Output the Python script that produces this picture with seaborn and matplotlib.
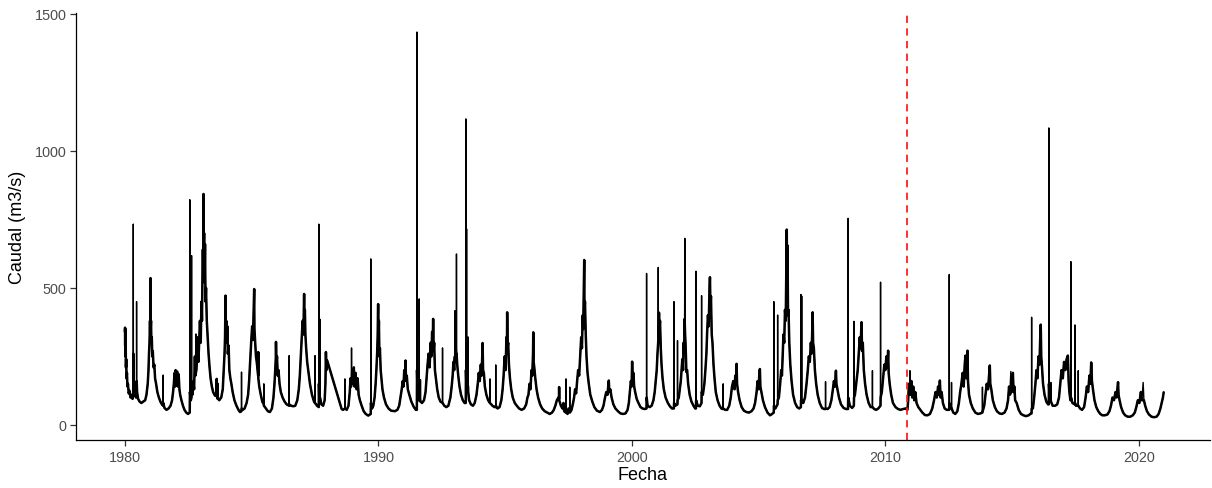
import matplotlib
matplotlib.use("Agg")
import matplotlib.pyplot as plt
import seaborn as sns
import pandas as pd

# Caudal diario (m3/s), puntos principales por década: (fecha en años decimales, caudal)
obs_1980s = [
    (1980.000, 340), (1980.005, 355), (1980.010, 290), (1980.015, 350), (1980.022, 250), (1980.030, 300),
    (1980.040, 210), (1980.050, 240), (1980.065, 170), (1980.080, 190), (1980.100, 140), (1980.120, 150),
    (1980.150, 115), (1980.180, 125), (1980.220, 100), (1980.260, 110), (1980.300, 95), (1980.327, 105),
    (1980.330, 733), (1980.334, 260), (1980.340, 180), (1980.360, 130), (1980.400, 110), (1980.440, 100),
    (1980.457, 110), (1980.460, 450), (1980.464, 160), (1980.480, 120), (1980.520, 95), (1980.580, 85),
    (1980.650, 80), (1980.720, 85), (1980.800, 90), (1980.850, 110), (1980.900, 150), (1980.930, 200),
    (1980.950, 260), (1980.970, 300), (1980.990, 380), (1981.005, 300), (1981.010, 536), (1981.015, 350),
    (1981.030, 380), (1981.045, 300), (1981.060, 320), (1981.080, 250), (1981.100, 270), (1981.130, 210),
    (1981.160, 220), (1981.190, 170), (1981.230, 150), (1981.280, 120), (1981.340, 100), (1981.400, 85),
    (1981.460, 75), (1981.507, 70), (1981.510, 182), (1981.514, 80), (1981.560, 62), (1981.640, 55),
    (1981.720, 60), (1981.800, 70), (1981.860, 90), (1981.900, 120), (1981.930, 150), (1981.960, 190),
    (1981.980, 140), (1982.000, 200), (1982.030, 150), (1982.060, 195), (1982.090, 140), (1982.120, 185),
    (1982.150, 130), (1982.180, 110), (1982.230, 90), (1982.290, 70), (1982.350, 55), (1982.420, 45),
    (1982.490, 40), (1982.557, 45), (1982.560, 822), (1982.564, 120), (1982.600, 90), (1982.627, 100),
    (1982.630, 618), (1982.634, 140), (1982.660, 110), (1982.700, 160), (1982.730, 130), (1982.760, 250),
    (1982.780, 180), (1982.800, 332), (1982.820, 200), (1982.850, 250), (1982.880, 320), (1982.900, 230),
    (1982.930, 300), (1982.960, 380), (1982.990, 300), (1983.020, 450), (1983.040, 380), (1983.060, 550),
    (1983.075, 640), (1983.090, 560), (1983.100, 843), (1983.110, 630), (1983.125, 700), (1983.140, 520),
    (1983.160, 660), (1983.180, 450), (1983.200, 500), (1983.230, 380), (1983.260, 330), (1983.300, 260),
    (1983.340, 210), (1983.380, 170), (1983.430, 140), (1983.480, 120), (1983.550, 107), (1983.617, 110),
    (1983.620, 168), (1983.624, 105), (1983.640, 100), (1983.657, 95), (1983.660, 150), (1983.664, 100),
    (1983.720, 90), (1983.800, 100), (1983.860, 130), (1983.900, 200), (1983.930, 260), (1983.950, 320),
    (1983.970, 472), (1983.980, 300), (1984.000, 380), (1984.020, 300), (1984.040, 360), (1984.060, 260),
    (1984.090, 290), (1984.120, 200), (1984.160, 170), (1984.200, 150), (1984.250, 120), (1984.320, 90),
    (1984.400, 70), (1984.480, 55), (1984.540, 47), (1984.597, 50), (1984.600, 193), (1984.604, 60),
    (1984.650, 55), (1984.720, 60), (1984.800, 80), (1984.860, 110), (1984.900, 160), (1984.940, 230),
    (1984.980, 300), (1985.020, 360), (1985.050, 310), (1985.080, 420), (1985.100, 496), (1985.110, 350),
    (1985.140, 300), (1985.170, 250), (1985.200, 230), (1985.257, 180), (1985.260, 266), (1985.264, 170),
    (1985.300, 140), (1985.360, 110), (1985.420, 85), (1985.477, 75), (1985.480, 150), (1985.484, 70),
    (1985.560, 60), (1985.640, 50), (1985.720, 47), (1985.800, 60), (1985.860, 100), (1985.900, 150),
    (1985.930, 200), (1985.955, 250), (1985.960, 303), (1985.975, 220), (1986.000, 250), (1986.030, 180),
    (1986.060, 200), (1986.100, 150), (1986.150, 120), (1986.220, 100), (1986.300, 85), (1986.380, 75),
    (1986.477, 70), (1986.480, 253), (1986.484, 75), (1986.560, 70), (1986.640, 68), (1986.720, 70),
    (1986.800, 90), (1986.860, 130), (1986.900, 180), (1986.940, 250), (1986.980, 320), (1987.010, 380),
    (1987.040, 330), (1987.060, 440), (1987.070, 478), (1987.080, 400), (1987.100, 420), (1987.120, 330),
    (1987.150, 280), (1987.190, 230), (1987.240, 193), (1987.300, 150), (1987.380, 110), (1987.460, 85),
    (1987.497, 80), (1987.500, 253), (1987.504, 80), (1987.580, 70), (1987.647, 65), (1987.650, 733),
    (1987.654, 150), (1987.670, 90), (1987.687, 80), (1987.690, 386), (1987.694, 100), (1987.750, 75),
    (1987.820, 70), (1987.880, 90), (1987.910, 150), (1987.930, 266), (1987.950, 200), (1987.980, 235),
    (1988.550, 58), (1988.600, 55), (1988.677, 60), (1988.680, 168), (1988.684, 60), (1988.750, 55),
    (1988.820, 70), (1988.870, 120), (1988.900, 170), (1988.920, 140), (1988.937, 160), (1988.940, 281),
    (1988.944, 150), (1988.970, 200), (1989.000, 150), (1989.030, 210), (1989.060, 140), (1989.100, 190),
    (1989.140, 130), (1989.180, 170), (1989.220, 110), (1989.270, 90), (1989.340, 70), (1989.420, 50),
    (1989.500, 40), (1989.600, 34), (1989.697, 40), (1989.700, 606), (1989.704, 80), (1989.750, 60),
    (1989.800, 70), (1989.850, 100), (1989.890, 150), (1989.920, 200), (1989.950, 260), (1989.970, 320),
    (1989.990, 441),
]

obs_1990s = [
    (1990.000, 300), (1990.020, 380), (1990.040, 250), (1990.060, 280), (1990.090, 200), (1990.120, 170),
    (1990.160, 130), (1990.220, 100), (1990.300, 75), (1990.400, 60), (1990.500, 52), (1990.650, 50),
    (1990.750, 55), (1990.820, 70), (1990.870, 100), (1990.920, 130), (1990.960, 160), (1990.990, 140),
    (1991.020, 200), (1991.050, 170), (1991.070, 235), (1991.090, 160), (1991.120, 180), (1991.160, 130),
    (1991.220, 110), (1991.300, 85), (1991.400, 65), (1991.480, 55), (1991.517, 55), (1991.520, 1434),
    (1991.524, 200), (1991.550, 100), (1991.580, 90), (1991.607, 90), (1991.610, 460), (1991.614, 120),
    (1991.640, 90), (1991.657, 85), (1991.660, 165), (1991.664, 85), (1991.720, 80), (1991.800, 90),
    (1991.860, 120), (1991.900, 170), (1991.940, 220), (1991.980, 260), (1992.020, 210), (1992.060, 300),
    (1992.090, 250), (1992.120, 340), (1992.140, 280), (1992.160, 387), (1992.180, 270), (1992.200, 300),
    (1992.230, 200), (1992.270, 170), (1992.320, 130), (1992.380, 100), (1992.450, 85), (1992.527, 80),
    (1992.530, 281), (1992.534, 80), (1992.600, 70), (1992.680, 65), (1992.760, 70), (1992.840, 100),
    (1992.890, 140), (1992.930, 180), (1992.960, 230), (1992.990, 200), (1993.017, 250), (1993.020, 417),
    (1993.024, 230), (1993.050, 280), (1993.077, 250), (1993.080, 624), (1993.084, 260), (1993.110, 220),
    (1993.150, 180), (1993.200, 140), (1993.260, 110), (1993.330, 90), (1993.400, 80), (1993.447, 80),
    (1993.450, 1117), (1993.454, 200), (1993.470, 150), (1993.477, 160), (1993.480, 715), (1993.484, 200),
    (1993.510, 150), (1993.537, 140), (1993.540, 321), (1993.544, 120), (1993.580, 90), (1993.650, 75),
    (1993.730, 70), (1993.800, 80), (1993.870, 110), (1993.920, 150), (1993.960, 190), (1994.000, 160),
    (1994.040, 220), (1994.070, 180), (1994.100, 260), (1994.110, 299), (1994.130, 200), (1994.160, 190),
    (1994.200, 140), (1994.260, 110), (1994.330, 90), (1994.397, 80), (1994.400, 168), (1994.404, 80),
    (1994.500, 70), (1994.580, 65), (1994.627, 65), (1994.630, 219), (1994.634, 70), (1994.700, 60),
    (1994.780, 65), (1994.850, 90), (1994.900, 130), (1994.940, 180), (1994.980, 250), (1995.020, 200),
    (1995.050, 320), (1995.070, 260), (1995.080, 411), (1995.095, 280), (1995.120, 300), (1995.150, 220),
    (1995.190, 170), (1995.240, 130), (1995.300, 100), (1995.380, 80), (1995.460, 70), (1995.550, 60),
    (1995.650, 55), (1995.750, 60), (1995.830, 75), (1995.880, 100), (1995.920, 110), (1995.960, 150),
    (1996.000, 130), (1996.040, 200), (1996.070, 180), (1996.100, 260), (1996.110, 338), (1996.125, 230),
    (1996.150, 210), (1996.190, 170), (1996.240, 130), (1996.300, 100), (1996.380, 75), (1996.460, 60),
    (1996.560, 50), (1996.660, 45), (1996.760, 40), (1996.850, 45), (1996.920, 55), (1996.980, 70),
    (1997.040, 90), (1997.100, 100), (1997.127, 95), (1997.130, 138), (1997.134, 90), (1997.200, 70),
    (1997.260, 60), (1997.300, 80), (1997.330, 50), (1997.397, 45), (1997.400, 168), (1997.404, 50),
    (1997.460, 40), (1997.500, 60), (1997.547, 50), (1997.550, 138), (1997.554, 45), (1997.620, 55),
    (1997.680, 80), (1997.720, 100), (1997.760, 130), (1997.800, 115), (1997.840, 160), (1997.880, 200),
    (1997.920, 180), (1997.960, 250), (1998.000, 320), (1998.030, 280), (1998.060, 400), (1998.080, 350),
    (1998.100, 480), (1998.120, 602), (1998.130, 420), (1998.150, 450), (1998.180, 330), (1998.210, 250),
    (1998.250, 190), (1998.300, 150), (1998.360, 110), (1998.440, 85), (1998.520, 65), (1998.620, 52),
    (1998.740, 47), (1998.820, 55), (1998.880, 70), (1998.940, 100), (1998.990, 120), (1999.040, 110),
    (1999.070, 145), (1999.090, 162), (1999.110, 120), (1999.150, 130), (1999.200, 100), (1999.270, 75),
    (1999.350, 60), (1999.450, 50), (1999.550, 42), (1999.650, 40), (1999.750, 42), (1999.830, 55),
    (1999.880, 80), (1999.920, 120), (1999.960, 160), (1999.990, 140),
]

obs_2000s = [
    (2000.010, 231), (2000.030, 160), (2000.060, 190), (2000.090, 140), (2000.130, 120), (2000.190, 95),
    (2000.260, 80), (2000.340, 65), (2000.420, 60), (2000.500, 58), (2000.577, 60), (2000.580, 553),
    (2000.584, 100), (2000.620, 70), (2000.700, 65), (2000.780, 70), (2000.850, 90), (2000.900, 120),
    (2000.940, 160), (2000.980, 200), (2001.010, 260), (2001.037, 300), (2001.040, 575), (2001.044, 320),
    (2001.070, 410), (2001.090, 350), (2001.110, 380), (2001.140, 280), (2001.170, 220), (2001.210, 170),
    (2001.260, 130), (2001.330, 100), (2001.420, 80), (2001.500, 68), (2001.580, 60), (2001.657, 60),
    (2001.660, 450), (2001.664, 80), (2001.720, 70), (2001.797, 75), (2001.800, 308), (2001.804, 90),
    (2001.850, 100), (2001.890, 130), (2001.930, 160), (2001.960, 200), (2001.990, 240), (2002.020, 200),
    (2002.040, 300), (2002.060, 260), (2002.080, 387), (2002.090, 681), (2002.100, 330), (2002.120, 290),
    (2002.150, 193), (2002.180, 200), (2002.220, 150), (2002.280, 110), (2002.350, 85), (2002.430, 70),
    (2002.500, 60), (2002.527, 60), (2002.530, 561), (2002.534, 90), (2002.600, 70), (2002.680, 68),
    (2002.747, 80), (2002.750, 472), (2002.754, 120), (2002.800, 110), (2002.860, 150), (2002.900, 200),
    (2002.940, 260), (2002.970, 340), (2003.000, 400), (2003.030, 360), (2003.060, 485), (2003.080, 539),
    (2003.100, 430), (2003.120, 470), (2003.150, 330), (2003.180, 300), (2003.220, 220), (2003.260, 170),
    (2003.310, 120), (2003.380, 90), (2003.460, 70), (2003.530, 60), (2003.580, 58), (2003.597, 60),
    (2003.600, 150), (2003.604, 60), (2003.680, 55), (2003.760, 55), (2003.840, 70), (2003.900, 100),
    (2003.950, 140), (2004.000, 160), (2004.050, 130), (2004.080, 180), (2004.110, 150), (2004.130, 223),
    (2004.150, 150), (2004.190, 120), (2004.250, 90), (2004.330, 65), (2004.420, 52), (2004.520, 47),
    (2004.620, 45), (2004.720, 50), (2004.800, 60), (2004.860, 80), (2004.920, 120), (2004.960, 160),
    (2005.000, 130), (2005.030, 190), (2005.050, 204), (2005.070, 140), (2005.110, 120), (2005.170, 90),
    (2005.250, 65), (2005.350, 45), (2005.450, 35), (2005.530, 40), (2005.597, 45), (2005.600, 450),
    (2005.604, 70), (2005.660, 60), (2005.747, 75), (2005.750, 401), (2005.754, 90), (2005.800, 100),
    (2005.850, 150), (2005.890, 200), (2005.920, 180), (2005.950, 260), (2005.980, 330), (2006.010, 300),
    (2006.040, 420), (2006.070, 380), (2006.090, 560), (2006.110, 713), (2006.125, 450), (2006.140, 655),
    (2006.160, 400), (2006.180, 420), (2006.210, 300), (2006.250, 220), (2006.300, 160), (2006.360, 110),
    (2006.440, 80), (2006.520, 65), (2006.600, 60), (2006.667, 65), (2006.670, 476), (2006.674, 90),
    (2006.690, 80), (2006.697, 80), (2006.700, 470), (2006.704, 90), (2006.760, 80), (2006.830, 100),
    (2006.890, 150), (2006.940, 200), (2006.980, 250), (2007.020, 230), (2007.060, 300), (2007.090, 260),
    (2007.120, 360), (2007.130, 411), (2007.150, 300), (2007.180, 280), (2007.220, 200), (2007.270, 150),
    (2007.330, 110), (2007.410, 80), (2007.500, 62), (2007.580, 58), (2007.637, 58), (2007.640, 158),
    (2007.644, 60), (2007.720, 58), (2007.800, 65), (2007.870, 90), (2007.930, 130), (2007.970, 160),
    (2008.010, 140), (2008.040, 185), (2008.050, 198), (2008.070, 150), (2008.110, 130), (2008.170, 100),
    (2008.250, 75), (2008.350, 62), (2008.450, 58), (2008.527, 58), (2008.530, 754), (2008.534, 100),
    (2008.600, 70), (2008.690, 62), (2008.757, 70), (2008.760, 378), (2008.764, 100), (2008.800, 110),
    (2008.860, 160), (2008.910, 200), (2008.950, 260), (2008.990, 320), (2009.020, 280), (2009.050, 350),
    (2009.060, 375), (2009.080, 270), (2009.110, 300), (2009.150, 200), (2009.200, 150), (2009.260, 110),
    (2009.340, 80), (2009.420, 65), (2009.487, 65), (2009.490, 198), (2009.494, 65), (2009.560, 58),
    (2009.640, 55), (2009.720, 60), (2009.807, 70), (2009.810, 521), (2009.814, 100), (2009.860, 120),
    (2009.910, 170), (2009.960, 220),
]

obs_2010s = [
    (2010.000, 200), (2010.040, 250), (2010.080, 210), (2010.110, 271), (2010.130, 190), (2010.170, 150),
    (2010.230, 110), (2010.300, 80), (2010.400, 65), (2010.500, 58), (2010.600, 55), (2010.700, 58),
    (2010.800, 60), (2010.870, 55), (2010.900, 90), (2010.930, 150), (2010.960, 120), (2010.970, 198),
    (2010.990, 110), (2011.030, 160), (2011.060, 100), (2011.100, 140), (2011.140, 90), (2011.180, 120),
    (2011.230, 80), (2011.300, 65), (2011.380, 55), (2011.460, 45), (2011.560, 36), (2011.660, 35),
    (2011.760, 40), (2011.850, 60), (2011.920, 90), (2011.980, 120), (2012.030, 100), (2012.080, 140),
    (2012.120, 110), (2012.150, 162), (2012.180, 100), (2012.220, 120), (2012.270, 80), (2012.340, 60),
    (2012.420, 55), (2012.517, 55), (2012.520, 549), (2012.524, 80), (2012.607, 60), (2012.610, 155),
    (2012.614, 60), (2012.680, 45), (2012.760, 40), (2012.840, 50), (2012.900, 80), (2012.950, 120),
    (2013.000, 150), (2013.050, 190), (2013.090, 140), (2013.130, 220), (2013.160, 253), (2013.190, 170),
    (2013.240, 271), (2013.260, 160), (2013.300, 110), (2013.370, 80), (2013.450, 60), (2013.550, 45),
    (2013.650, 40), (2013.750, 42), (2013.827, 45), (2013.830, 138), (2013.834, 48), (2013.900, 70),
    (2013.950, 110), (2014.000, 150), (2014.050, 130), (2014.090, 180), (2014.120, 217), (2014.140, 150),
    (2014.180, 130), (2014.240, 90), (2014.320, 65), (2014.400, 50), (2014.500, 42), (2014.600, 40),
    (2014.700, 45), (2014.780, 60), (2014.840, 90), (2014.880, 140), (2014.910, 110), (2014.950, 195),
    (2014.970, 120), (2015.000, 160), (2015.030, 190), (2015.060, 120), (2015.090, 140), (2015.120, 90),
    (2015.180, 80), (2015.260, 55), (2015.350, 40), (2015.450, 35), (2015.550, 32), (2015.650, 35),
    (2015.720, 40), (2015.767, 42), (2015.770, 393), (2015.774, 60), (2015.820, 60), (2015.870, 100),
    (2015.920, 150), (2015.960, 200), (2016.000, 170), (2016.040, 250), (2016.080, 220), (2016.110, 320),
    (2016.130, 366), (2016.150, 250), (2016.180, 210), (2016.220, 150), (2016.280, 110), (2016.350, 85),
    (2016.420, 75), (2016.447, 75), (2016.450, 1084), (2016.454, 150), (2016.480, 100), (2016.527, 90),
    (2016.530, 155), (2016.534, 85), (2016.600, 70), (2016.700, 70), (2016.780, 75), (2016.850, 100),
    (2016.900, 150), (2016.950, 200), (2017.000, 170), (2017.050, 230), (2017.100, 200), (2017.150, 240),
    (2017.200, 253), (2017.230, 160), (2017.260, 120), (2017.300, 90), (2017.317, 90), (2017.320, 596),
    (2017.324, 100), (2017.380, 80), (2017.477, 75), (2017.480, 365), (2017.484, 80), (2017.520, 70),
    (2017.607, 70), (2017.610, 198), (2017.614, 70), (2017.680, 60), (2017.760, 55), (2017.840, 65),
    (2017.900, 100), (2017.950, 140), (2018.000, 120), (2018.050, 180), (2018.090, 150), (2018.120, 228),
    (2018.150, 160), (2018.190, 130), (2018.250, 90), (2018.320, 65), (2018.400, 50), (2018.480, 40),
    (2018.560, 35), (2018.660, 35), (2018.760, 38), (2018.840, 50), (2018.900, 70), (2018.960, 100),
    (2019.020, 90), (2019.080, 120), (2019.120, 100), (2019.180, 156), (2019.200, 110), (2019.240, 90),
    (2019.300, 65), (2019.380, 45), (2019.460, 35), (2019.560, 30), (2019.660, 30), (2019.760, 35),
    (2019.840, 45), (2019.900, 65), (2019.960, 90),
]

obs_2020s = [
    (2020.020, 80), (2020.080, 120), (2020.120, 90), (2020.170, 155), (2020.200, 90), (2020.250, 70),
    (2020.320, 50), (2020.400, 38), (2020.500, 30), (2020.600, 28), (2020.700, 30), (2020.780, 40),
    (2020.850, 60), (2020.900, 80), (2020.950, 100), (2020.980, 119),
]

# Fecha de corte entre periodos
fecha_corte = 2010.87

x_ticks = [1980, 1990, 2000, 2010, 2020]
y_ticks = [0, 500, 1000, 1500]

serie = pd.DataFrame(obs_1980s + obs_1990s + obs_2000s + obs_2010s + obs_2020s,
                     columns=["fecha", "caudal"])

# Crecidas de un solo día: valores muy por encima de sus dos vecinos
prev_q = serie["caudal"].shift(1)
next_q = serie["caudal"].shift(-1)
serie["pico"] = (serie["caudal"] > 1.6 * prev_q) & (serie["caudal"] > 1.6 * next_q)
base = serie[~serie["pico"]]

sns.set_theme(style="ticks")
plt.rcParams["font.family"] = ["Liberation Sans", "DejaVu Sans"]

fig = plt.figure(figsize=(12.12, 4.89), dpi=100)
ax = fig.add_axes([0.0627, 0.0982, 0.9355, 0.874])

# serie completa en trazo fino (crecidas puntuales) y caudal base en trazo grueso
sns.lineplot(data=serie, x="fecha", y="caudal", color="black", linewidth=1.0,
             estimator=None, ax=ax)
sns.lineplot(data=base, x="fecha", y="caudal", color="black", linewidth=1.8,
             estimator=None, ax=ax)
ax.axvline(fecha_corte, color="#FF2020", linestyle=(0, (4, 3)), linewidth=1.3)

ax.set_xlim(1978.07, 2022.8)
ax.set_ylim(-55, 1505)
ax.set_xticks(x_ticks)
ax.set_xticklabels([str(v) for v in x_ticks])
ax.set_yticks(y_ticks)
ax.set_yticklabels([str(v) for v in y_ticks])

for side in ("top", "right"):
    ax.spines[side].set_visible(False)
for side in ("left", "bottom"):
    ax.spines[side].set_color("black")
    ax.spines[side].set_linewidth(0.9)

ax.tick_params(axis="both", length=4, width=0.9, color="#333333",
               labelsize=10.4, labelcolor="#4D4D4D", pad=3)
ax.set_xlabel("Fecha", fontsize=13, color="black", labelpad=2)
ax.set_ylabel("Caudal (m3/s)", fontsize=13, color="black", labelpad=6)

fig.savefig("out.png", dpi=100, facecolor="white")
